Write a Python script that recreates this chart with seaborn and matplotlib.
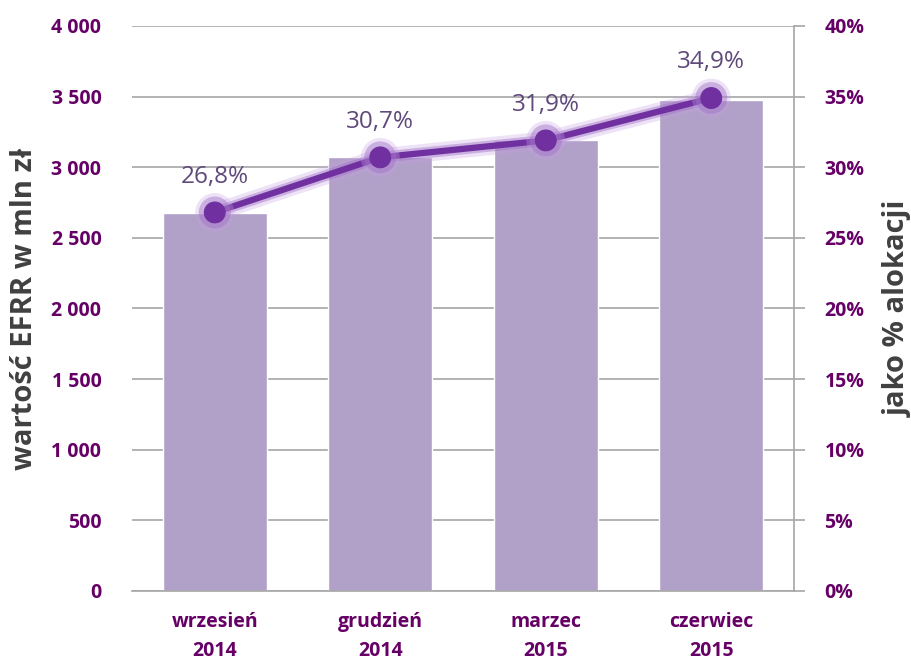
import matplotlib
matplotlib.use("Agg")
import matplotlib.pyplot as plt
import matplotlib.patheffects as pe
from matplotlib.ticker import FuncFormatter, MultipleLocator
import seaborn as sns
import pandas as pd

categories = ["wrzesień\n2014", "grudzień\n2014", "marzec\n2015", "czerwiec\n2015"]
values_mln = [2676, 3073, 3190, 3476]
share_pct = [26.8, 30.7, 31.9, 34.9]
share_labels = ["26,8%", "30,7%", "31,9%", "34,9%"]

sns.set_theme(style="white")
plt.rcParams['font.family'] = ['Open Sans', 'DejaVu Sans']

BAR = "#B1A0C7"
LINE = "#7030A0"
TICK = "#660066"
LABEL = "#5F497A"
GRID = "#A6A6A6"

df = pd.DataFrame({"cat": categories, "val": values_mln, "pct": share_pct})

fig = plt.figure(figsize=(9.12, 6.62), dpi=100)
ax = fig.add_axes([132/912, 1-591/662, (794-132)/912, (591-26)/662])

sns.barplot(data=df, x="cat", y="val", color=BAR, saturation=1, width=0.63, ax=ax)
ax.set_xlim(-0.5, 3.5)
ax.set_ylim(0, 4000)
ax.yaxis.set_major_locator(MultipleLocator(500))
ax.yaxis.set_major_formatter(FuncFormatter(lambda v, p: f"{int(v):,}".replace(",", " ")))
ax.grid(axis="y", color=GRID, linewidth=1.2)
ax.set_axisbelow(True)
for s in ["top", "left", "right"]:
    ax.spines[s].set_visible(False)
ax.spines["bottom"].set_color(GRID)
ax.spines["bottom"].set_linewidth(1.2)
ax.tick_params(axis="y", length=0, pad=22, labelsize=14, labelcolor=TICK)
ax.tick_params(axis="x", length=0, pad=15, labelsize=14, labelcolor=TICK)
for t in ax.get_yticklabels() + ax.get_xticklabels():
    t.set_fontweight("bold")
for t in ax.get_xticklabels():
    t.set_linespacing(1.6)
ax.set_xlabel("")
ax.set_ylabel("wartość EFRR w mln zł", fontsize=21, fontweight="bold", color="#404040")
ax.yaxis.set_label_coords(-0.14, 0.5)

ax2 = ax.twinx()
ax2.set_ylim(0, 40)
ax2.yaxis.set_major_locator(MultipleLocator(5))
ax2.yaxis.set_major_formatter(FuncFormatter(lambda v, p: f"{int(v)}%"))
for s in ["top", "left", "bottom"]:
    ax2.spines[s].set_visible(False)
ax2.spines["right"].set_color(GRID)
ax2.spines["right"].set_linewidth(1.2)
ax2.tick_params(axis="y", length=8, width=1.2, color=GRID, pad=14, labelsize=14, labelcolor=TICK)
for t in ax2.get_yticklabels():
    t.set_fontweight("bold")
sns.lineplot(data=df, x="cat", y="pct", ax=ax2, color=LINE, linewidth=4.5,
             marker="o", markersize=15, markeredgecolor=LINE, sort=False)
for line in ax2.lines:
    line.set_path_effects([pe.Stroke(linewidth=13, foreground="#C7A3E3", alpha=0.3),
                           pe.Stroke(linewidth=8, foreground="#A070C8", alpha=0.45),
                           pe.Normal()])
ax2.set_ylabel("jako % alokacji", fontsize=21, fontweight="bold", color="#404040")
ax2.yaxis.set_label_coords(1.135, 0.5)
ax2.set_xlabel("")
for i, (p, lab) in enumerate(zip(share_pct, share_labels)):
    ax2.annotate(lab, (i, p), xytext=(0, 17), textcoords="offset points",
                 ha="center", va="bottom", fontsize=17.5, color=LABEL)
ax2.set_xlim(-0.5, 3.5)

fig.savefig("out.png", dpi=100)
